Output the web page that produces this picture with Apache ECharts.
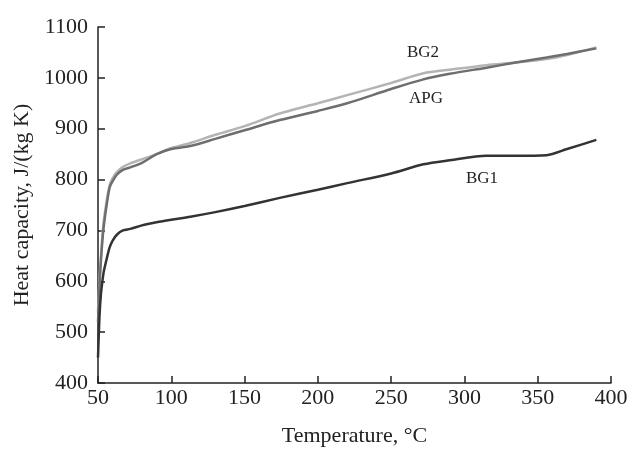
<!DOCTYPE html>
<html>
<head>
<meta charset="utf-8">
<script src="https://cdn.jsdelivr.net/npm/echarts@6/dist/echarts.min.js"></script>
<style>
html, body { margin: 0; padding: 0; background: #fff; }
#chart { width: 634px; height: 450px; }
</style>
</head>
<body>
<div id="chart"></div>
<script>
// temperature, °C
const temps = [50, 51, 52, 53, 54, 56, 58, 60, 63, 67, 72, 80, 90, 100, 113, 130, 150, 174, 200, 220, 250, 272, 290, 315, 335, 356, 370, 390]
// heat capacity, J/(kg K)
const bg1 = [450, 530, 575, 600, 620, 645, 667, 680, 692, 700, 703, 710, 716, 721, 727, 736, 748, 764, 780, 793, 812, 830, 838, 847, 847, 848, 860, 878]
const bg2 = [540, 600, 650, 690, 720, 760, 790, 803, 815, 825, 832, 840, 850, 862, 872, 888, 905, 930, 950, 966, 990, 1009, 1016, 1025, 1030, 1037, 1045, 1060]
const apg = [520, 590, 640, 680, 710, 752, 785, 797, 810, 819, 824, 833, 850, 860, 866, 880, 897, 917, 935, 950, 978, 997, 1008, 1020, 1030, 1040, 1047, 1058]
const xTicks = [50, 100, 150, 200, 250, 300, 350, 400]
const yTicks = [400, 500, 600, 700, 800, 900, 1000, 1100]

const pairs = (ys) => temps.map((t, i) => [t, ys[i]])
const font = 'Liberation Serif'

const chart = echarts.init(document.getElementById('chart'))
const option = {
    animation: false,
    grid: { left: 98, right: 23, top: 27, bottom: 67, outerBoundsMode: 'none', containLabel: false },
    xAxis: {
        type: 'value',
        min: xTicks[0],
        max: xTicks[xTicks.length - 1],
        interval: 50,
        name: 'Temperature, °C',
        nameLocation: 'middle',
        nameGap: 42,
        nameTextStyle: { fontFamily: font, fontSize: 22, color: '#222' },
        axisLine: { lineStyle: { color: '#222', width: 1.5 } },
        axisTick: { inside: true, length: 7, lineStyle: { color: '#222', width: 1.5 } },
        axisLabel: { fontFamily: font, fontSize: 22, color: '#222', margin: 4, formatter: (v) => String(v) },
        splitLine: { show: false }
    },
    yAxis: {
        type: 'value',
        min: yTicks[0],
        max: yTicks[yTicks.length - 1],
        interval: 100,
        name: 'Heat capacity, J/(kg K)',
        nameLocation: 'middle',
        nameGap: 64,
        nameTextStyle: { fontFamily: font, fontSize: 22, color: '#222' },
        axisLine: { show: true, lineStyle: { color: '#222', width: 1.5 } },
        axisTick: { show: true, inside: true, length: 7, lineStyle: { color: '#222', width: 1.5 } },
        axisLabel: { fontFamily: font, fontSize: 22, color: '#222', margin: 10, formatter: (v) => String(v) },
        splitLine: { show: false }
    },
    series: [
        {
            name: 'BG2', type: 'line', data: pairs(bg2), smooth: 0.3, showSymbol: false,
            lineStyle: { color: '#b4b4b4', width: 2.5 }
        },
        {
            name: 'APG', type: 'line', data: pairs(apg), smooth: 0.3, showSymbol: false,
            lineStyle: { color: '#6e6e6e', width: 2.5 }
        },
        {
            name: 'BG1', type: 'line', data: pairs(bg1), smooth: 0.3, showSymbol: false,
            lineStyle: { color: '#333', width: 2.5 }
        }
    ],
    graphic: [
        { type: 'text', left: 407, top: 44, style: { text: 'BG2', font: '17px "Liberation Serif"', fill: '#222' } },
        { type: 'text', left: 409, top: 90, style: { text: 'APG', font: '17px "Liberation Serif"', fill: '#222' } },
        { type: 'text', left: 466, top: 170, style: { text: 'BG1', font: '17px "Liberation Serif"', fill: '#222' } }
    ]
}
chart.setOption(option)
</script>
</body>
</html>
